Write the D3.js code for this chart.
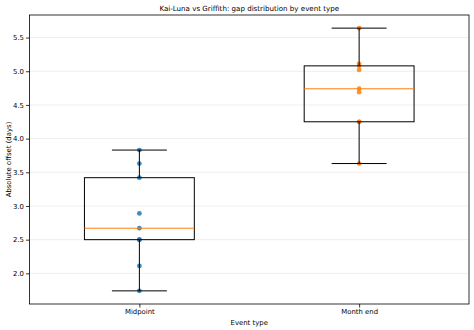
<!DOCTYPE html>
<html>
<head>
<meta charset="utf-8">
<script src="https://cdn.jsdelivr.net/npm/d3@7"></script>
<style>
  html, body { margin: 0; padding: 0; background: #fff; }
  svg { display: block; font-family: "DejaVu Sans", sans-serif; }
</style>
</head>
<body>
<svg id="chart" width="474" height="330"></svg>
<script>
// Absolute offsets (days) between Kai-Luna and Griffith, grouped by event type
const categories = ["Midpoint", "Month end"];
const midpointGaps = [1.74, 2.11, 2.50, 2.50, 2.67, 2.89, 3.42, 3.63, 3.83];
const monthEndGaps = [3.63, 4.25, 4.25, 4.69, 4.74, 5.02, 5.08, 5.11, 5.64];
const yTicks = [2.0, 2.5, 3.0, 3.5, 4.0, 4.5, 5.0, 5.5];
const seriesColors = ["#1f77b4", "#ff7f0e"];

const groups = [midpointGaps, monthEndGaps].map((values, i) => {
  const sorted = values.slice().sort(d3.ascending);
  const q1 = d3.quantile(sorted, 0.25);
  const median = d3.quantile(sorted, 0.5);
  const q3 = d3.quantile(sorted, 0.75);
  const iqr = q3 - q1;
  const lo = d3.min(sorted.filter(v => v >= q1 - 1.5 * iqr));
  const hi = d3.max(sorted.filter(v => v <= q3 + 1.5 * iqr));
  return { name: categories[i], values: sorted, q1, median, q3, lo, hi, color: seriesColors[i] };
});

const margin = { top: 15, right: 5, bottom: 26, left: 29.5 };
const width = 474, height = 330;
const svg = d3.select("#chart");

const allValues = midpointGaps.concat(monthEndGaps);
const [minV, maxV] = d3.extent(allValues);
const pad = (maxV - minV) * 0.05;

const x = d3.scalePoint()
  .domain(categories)
  .range([margin.left, width - margin.right])
  .padding(0.5);

const y = d3.scaleLinear()
  .domain([minV - pad, maxV + pad])
  .range([height - margin.bottom, margin.top]);

const boxWidth = x.step() * 0.5;
const capWidth = boxWidth * 0.5;

// horizontal grid
svg.append("g")
  .selectAll("line")
  .data(yTicks)
  .join("line")
  .attr("x1", margin.left)
  .attr("x2", width - margin.right)
  .attr("y1", d => y(d))
  .attr("y2", d => y(d))
  .attr("stroke", "#ebebeb")
  .attr("stroke-width", 0.8);

const box = svg.append("g")
  .selectAll("g")
  .data(groups)
  .join("g");

// individual observations sit underneath the box outlines
box.selectAll("circle")
  .data(d => d.values.map(v => ({ name: d.name, v, color: d.color })))
  .join("circle")
  .attr("cx", d => x(d.name))
  .attr("cy", d => y(d.v))
  .attr("r", 2.4)
  .attr("fill", d => d.color)
  .attr("fill-opacity", 0.85);

box.append("line")
  .attr("x1", d => x(d.name))
  .attr("x2", d => x(d.name))
  .attr("y1", d => y(d.lo))
  .attr("y2", d => y(d.q1))
  .attr("stroke", "#000");

box.append("line")
  .attr("x1", d => x(d.name))
  .attr("x2", d => x(d.name))
  .attr("y1", d => y(d.q3))
  .attr("y2", d => y(d.hi))
  .attr("stroke", "#000");

box.selectAll(".cap")
  .data(d => [d.lo, d.hi].map(v => ({ name: d.name, v })))
  .join("line")
  .attr("class", "cap")
  .attr("x1", d => x(d.name) - capWidth / 2)
  .attr("x2", d => x(d.name) + capWidth / 2)
  .attr("y1", d => y(d.v))
  .attr("y2", d => y(d.v))
  .attr("stroke", "#000");

box.append("rect")
  .attr("x", d => x(d.name) - boxWidth / 2)
  .attr("width", boxWidth)
  .attr("y", d => y(d.q3))
  .attr("height", d => y(d.q1) - y(d.q3))
  .attr("fill", "none")
  .attr("stroke", "#000");

box.append("line")
  .attr("x1", d => x(d.name) - boxWidth / 2)
  .attr("x2", d => x(d.name) + boxWidth / 2)
  .attr("y1", d => y(d.median))
  .attr("y2", d => y(d.median))
  .attr("stroke", "#ff7f0e");

// axes
const yAxis = svg.append("g")
  .attr("transform", `translate(${margin.left},0)`)
  .call(d3.axisLeft(y).tickValues(yTicks).tickFormat(d3.format(".1f")).tickSizeOuter(0).tickSize(3.5).tickPadding(2));

const xAxis = svg.append("g")
  .attr("transform", `translate(0,${height - margin.bottom})`)
  .call(d3.axisBottom(x).tickSizeOuter(0).tickSize(3.5).tickPadding(2));

[xAxis, yAxis].forEach(g => {
  g.select(".domain").remove();
  g.selectAll("line").attr("stroke", "#000").attr("stroke-width", 0.8);
  g.selectAll("text").attr("font-size", 6.9).attr("fill", "#000").attr("font-family", "DejaVu Sans");
});

// frame
svg.append("rect")
  .attr("x", margin.left)
  .attr("y", margin.top)
  .attr("width", width - margin.right - margin.left)
  .attr("height", height - margin.bottom - margin.top)
  .attr("fill", "none")
  .attr("stroke", "#000")
  .attr("stroke-width", 0.8);

svg.append("text")
  .attr("x", (margin.left + width - margin.right) / 2)
  .attr("y", 10.5)
  .attr("text-anchor", "middle")
  .attr("font-size", 7.1)
  .text("Kai-Luna vs Griffith: gap distribution by event type");

svg.append("text")
  .attr("x", (margin.left + width - margin.right) / 2)
  .attr("y", 325)
  .attr("text-anchor", "middle")
  .attr("font-size", 6.9)
  .text("Event type");

svg.append("text")
  .attr("transform", `translate(10.5,${(margin.top + height - margin.bottom) / 2}) rotate(-90)`)
  .attr("text-anchor", "middle")
  .attr("font-size", 6.9)
  .text("Absolute offset (days)");
</script>
</body>
</html>
